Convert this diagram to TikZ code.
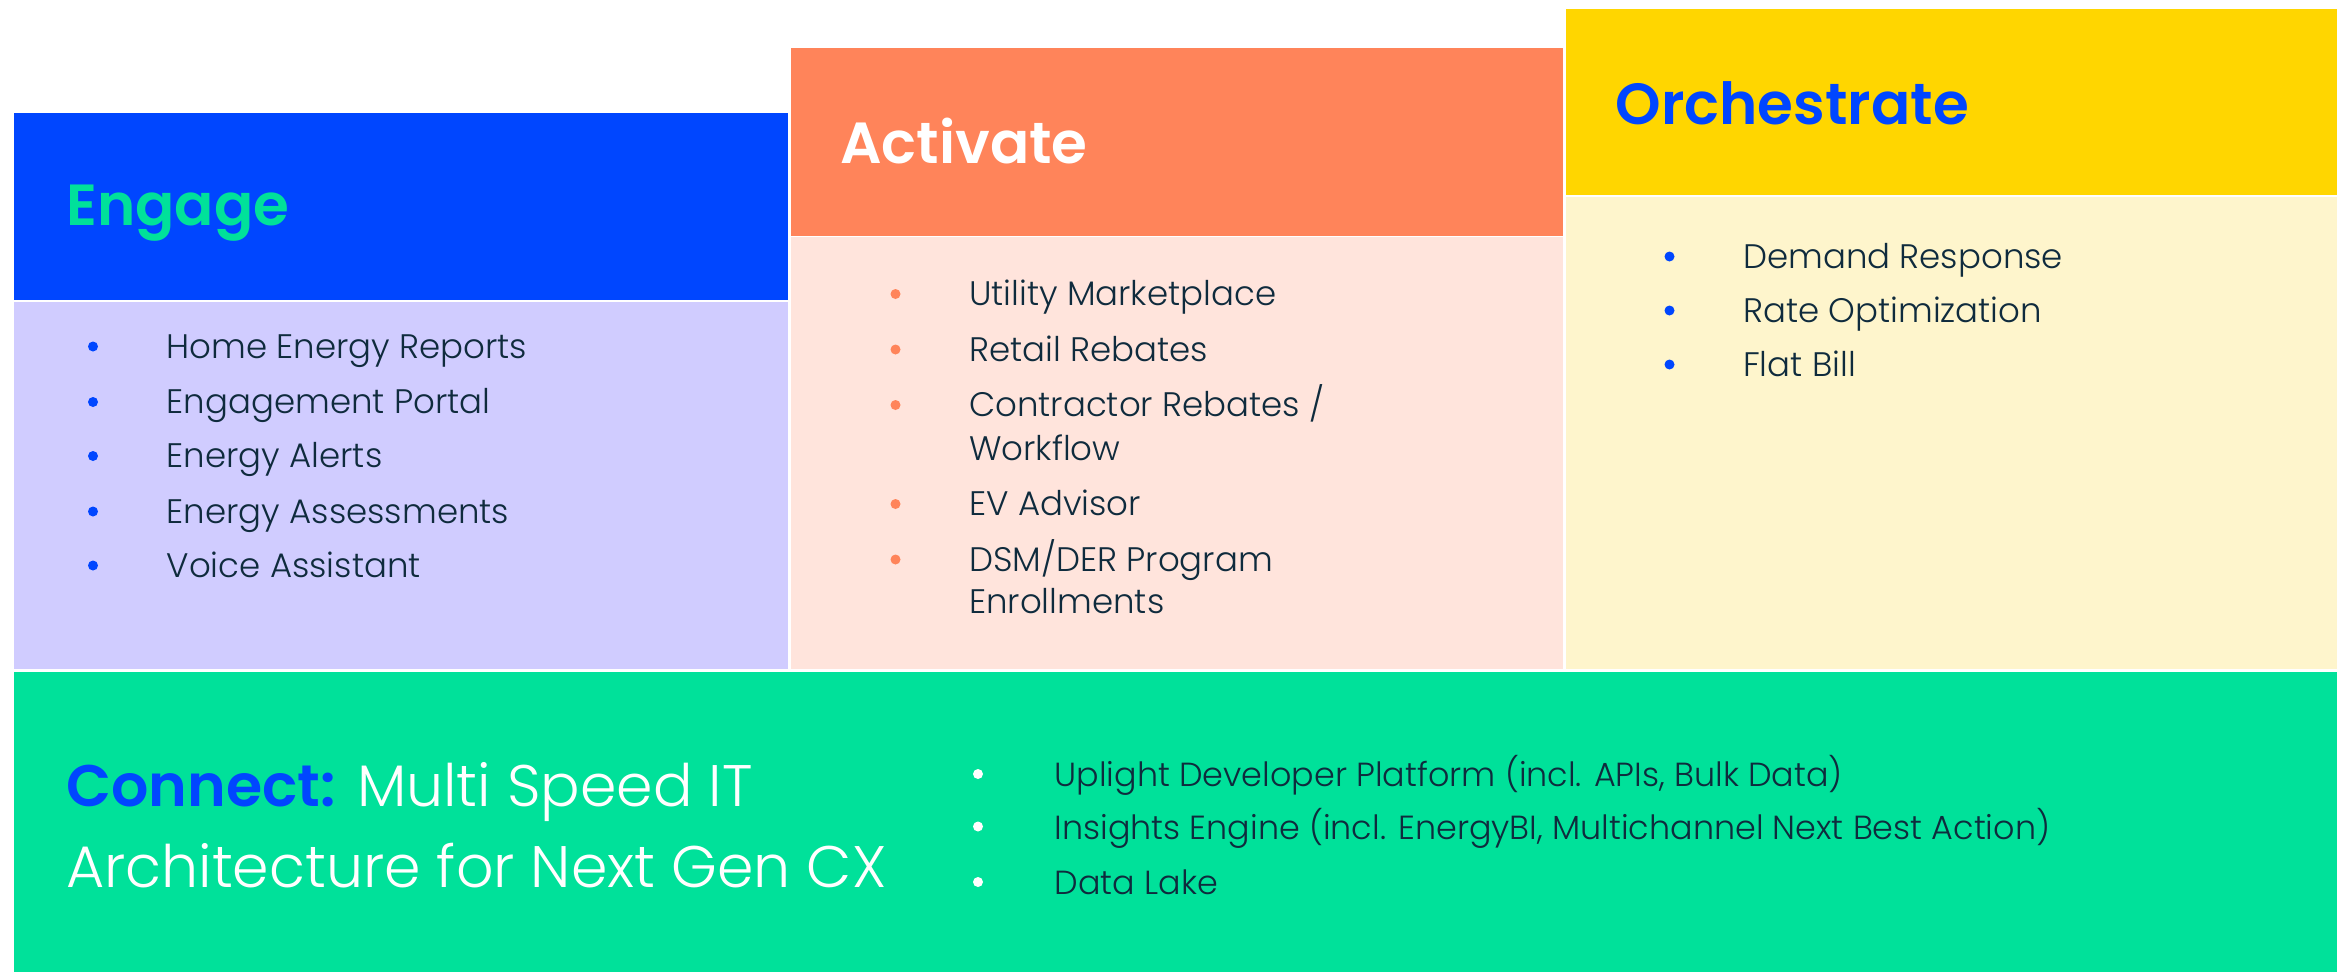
\documentclass[tikz,border=0pt]{standalone}
\usepackage{fontspec}
\setmainfont{Poppins}
\newfontfamily\lightfont{Poppins Light}
\newfontfamily\headfont{Poppins SemiBold}
\definecolor{eblue}{HTML}{0046FF}
\definecolor{elav}{HTML}{D0CCFF}
\definecolor{aorange}{HTML}{FF845A}
\definecolor{apeach}{HTML}{FFE4DC}
\definecolor{oyellow}{HTML}{FFD600}
\definecolor{ocream}{HTML}{FEF5CC}
\definecolor{cgreen}{HTML}{00E19A}
\definecolor{ink}{HTML}{0F2B3D}
\tikzset{
  head/.style={anchor=mid west, inner sep=0pt, font=\headfont\fontsize{58}{60}\selectfont},
  item/.style={anchor=mid west, inner sep=0pt, text=ink, font=\lightfont\fontsize{34}{40}\selectfont},
  citem/.style={anchor=mid west, inner sep=0pt, text=ink, font=\lightfont\fontsize{33.4}{40}\selectfont},
  title/.style={anchor=mid west, inner sep=0pt, text=white, font=\lightfont\fontsize{58.6}{62}\selectfont},
  dot/.style={circle, inner sep=0pt, minimum size=10pt},
}
\begin{document}
\begin{tikzpicture}[x=1pt,y=-1pt]
\useasboundingbox (0,0) rectangle (2351,975);
\fill[white] (0,0) rectangle (2351,975);

% column panels: header band and body
\fill[eblue]   (13.5,112.5) rectangle (787.5,300);
\fill[elav]    (13.5,301.5) rectangle (787.5,669);
\fill[aorange] (790.5,48)   rectangle (1563,235.5);
\fill[apeach]  (790.5,237)  rectangle (1563,669);
\fill[oyellow] (1566,9)     rectangle (2337,195);
\fill[ocream]  (1566,196.5) rectangle (2337,669);
% base layer
\fill[cgreen]  (13.5,672)   rectangle (2337,972);

% headers
\node[head, text=cgreen] (engage) at (66,223) {Engage};
\node[head, text=white] (activate) at (840,160.5) {Activate};
\node[head, text=eblue] (orch) at (1615.5,121.5) {Orchestrate};

% Engage list
\foreach \y/\t [count=\i] in {346.5/Home Energy Reports, 402/Engagement Portal, 456/Energy Alerts, 511.5/Energy Assessments, 565.5/Voice Assistant}{
  \node[dot, fill=eblue] (ed\i) at (93,\y) {};
  \node[item] (e\i) at (166.5,\y+9) {\t};
}

% Activate list
\foreach \y [count=\i] in {294, 349.5, 405, 504, 559.5}{
  \node[dot, fill=aorange] (ad\i) at (895.5,\y) {};
}
\node[item] (a1) at (969,303) {Utility Marketplace};
\node[item] (a2) at (969,358.5) {Retail Rebates};
\node[item] (a3) at (969,414) {Contractor Rebates /};
\node[item] (a3b) at (969,457.5) {Workflow};
\node[item] (a4) at (969,513) {EV Advisor};
\node[item] (a5) at (969,568.5) {DSM/DER Program};
\node[item] (a5b) at (969,610.5) {Enrollments};

% Orchestrate list
\foreach \y/\t [count=\i] in {256.5/Demand Response, 310.5/Rate Optimization, 364.5/Flat Bill}{
  \node[dot, fill=eblue] (od\i) at (1669.5,\y) {};
  \node[item] (o\i) at (1743,\y+9) {\t};
}

% Connect layer
\node[title] (ct1) at (66,804) {{\headfont\color{eblue}Connect:} Multi Speed IT};
\node[title] (ct2) at (66,885) {Architecture for Next Gen CX};
\foreach \y [count=\i] in {774, 826.5, 882}{
  \node[dot, fill=white] (cd\i) at (978,\y) {};
}
\node[citem] (c1) at (1054.5,784) {Uplight Developer Platform (incl. APIs, Bulk Data)};
\node[citem] (c2) at (1054.5,836.5) {Insights Engine (incl. EnergyBI, Multichannel Next Best Action)};
\node[citem] (c3) at (1054.5,892) {Data Lake};
\end{tikzpicture}
\end{document}
